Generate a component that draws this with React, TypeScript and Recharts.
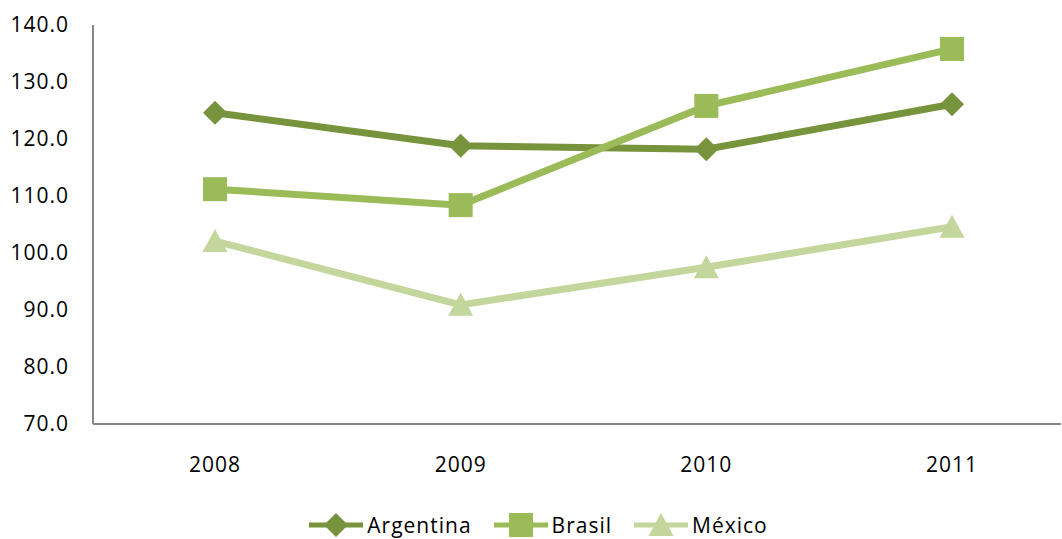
import React from "react";
import { Legend, Line, LineChart, XAxis, YAxis } from "recharts";

const years = ["2008", "2009", "2010", "2011"];
const argentina = [124.6, 118.8, 118.2, 126.1];
const brasil = [111.2, 108.4, 125.8, 135.8];
const mexico = [102.1, 90.9, 97.5, 104.6];
const yTicks = [70, 80, 90, 100, 110, 120, 130, 140];

const series = [
  { key: "argentina", name: "Argentina", color: "#77933C", shape: "diamond" },
  { key: "brasil", name: "Brasil", color: "#9BBB59", shape: "square" },
  { key: "mexico", name: "México", color: "#C3D69B", shape: "triangle" }
];

const data = years.map((year, i) => ({
  year,
  argentina: argentina[i],
  brasil: brasil[i],
  mexico: mexico[i]
}));

const FONT = "'Open Sans', sans-serif";

function Marker({ cx, cy, shape, color }: { cx: number; cy: number; shape: string; color: string }) {
  if (cx == null || cy == null) return null;
  if (shape === "diamond") {
    const r = 12;
    return <polygon points={`${cx},${cy - r} ${cx + r},${cy} ${cx},${cy + r} ${cx - r},${cy}`} fill={color} />;
  }
  if (shape === "square") {
    const s = 12;
    return <rect x={cx - s} y={cy - s} width={s * 2} height={s * 2} fill={color} />;
  }
  return <polygon points={`${cx},${cy - 12} ${cx + 12.5},${cy + 11} ${cx - 12.5},${cy + 11}`} fill={color} />;
}

function LegendContent() {
  return (
    <div style={{ display: "flex", justifyContent: "center", alignItems: "center", fontFamily: FONT, fontSize: 21, color: "#000", paddingLeft: 30, marginTop: 12 }}>
      {series.map((s) => (
        <div key={s.key} style={{ display: "flex", alignItems: "center", marginRight: 22 }}>
          <svg width={54} height={26}>
            <line x1={0} y1={13} x2={54} y2={13} stroke={s.color} strokeWidth={5} />
            <Marker cx={27} cy={13} shape={s.shape} color={s.color} />
          </svg>
          <span style={{ marginLeft: 4, letterSpacing: 1 }}>{s.name}</span>
        </div>
      ))}
    </div>
  );
}

export default function App() {
  return (
    <div style={{ position: "absolute", left: 0, top: 0, width: 1062, height: 539, overflow: "hidden", background: "#fff" }}>
      <LineChart width={1062} height={539} data={data} margin={{ top: 25, right: 1, left: 8, bottom: 0 }}>
        <XAxis
          dataKey="year"
          padding={{ left: 122, right: 109 }}
          axisLine={{ stroke: "#868686", strokeWidth: 2 }}
          tickLine={false}
          tickSize={0}
          tickMargin={33}
          height={75}
          tick={{ fill: "#000", fontSize: 21, fontFamily: FONT, letterSpacing: 1 }}
        />
        <YAxis
          domain={[70, 140]}
          ticks={yTicks}
          tickFormatter={(v: number) => v.toFixed(1)}
          width={85}
          axisLine={{ stroke: "#868686", strokeWidth: 2 }}
          tickLine={false}
          tickSize={0}
          tickMargin={24}
          interval={0}
          tick={{ fill: "#000", fontSize: 21, fontFamily: FONT, letterSpacing: 1 }}
        />
        <Legend verticalAlign="bottom" height={40} content={<LegendContent />} />
        {series.map((s) => (
          <Line
            key={s.key}
            dataKey={s.key}
            name={s.name}
            type="linear"
            stroke={s.color}
            strokeWidth={7}
            dot={(p: any) => <Marker key={`${s.key}-${p.index}`} cx={p.cx} cy={p.cy} shape={s.shape} color={s.color} />}
            activeDot={false}
            isAnimationActive={false}
          />
        ))}
      </LineChart>
    </div>
  );
}
